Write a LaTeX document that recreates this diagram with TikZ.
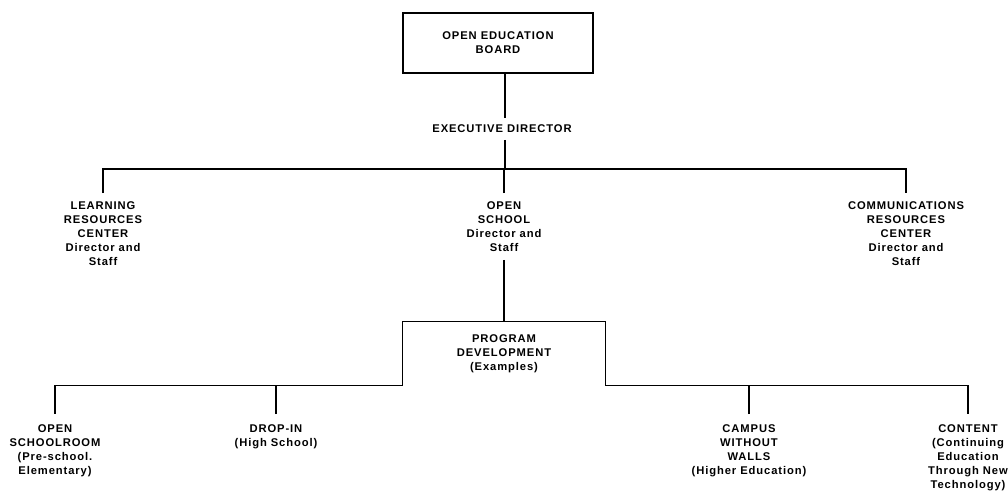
\documentclass[tikz,border=0pt]{standalone}
\usepackage{fontspec}
\setmainfont{Liberation Sans}[LetterSpace=8]
\begin{document}
\begin{tikzpicture}[
  x=0.75pt, y=-0.75pt,
  every node/.style={font=\bfseries\fontsize{8.4}{10.6}\selectfont, align=center},
  orgtext/.style={inner xsep=2pt, inner ysep=6pt},
  leaftext/.style={inner xsep=2pt, inner ysep=7.5pt},
  boardbox/.style={draw, line width=0.9pt, minimum width=142.5pt, minimum height=45pt},
  progbox/.style={minimum width=151.5pt, minimum height=47.25pt},
  link/.style={line width=0.9pt}
]
\useasboundingbox (0,0) rectangle (1008,493);

% top of the organisation
\node[boardbox] (board) at (498,43) {OPEN EDUCATION\\BOARD};
\node[inner ysep=5pt] (exec) at (502,129) {EXECUTIVE DIRECTOR};
\coordinate (hub) at (505,169);

% centres under the executive director
\node[orgtext, anchor=north] (lrc) at (103,193) {LEARNING\\RESOURCES\\CENTER\\Director and\\Staff};
\node[orgtext, anchor=north] (os) at (504,193) {OPEN\\SCHOOL\\Director and\\Staff};
\node[orgtext, anchor=north] (crc) at (906,193) {COMMUNICATIONS\\RESOURCES\\CENTER\\Director and\\Staff};

% program development and its examples
\node[progbox] (prog) at (504,353.5) {PROGRAM\\DEVELOPMENT\\(Examples)};
\node[leaftext, anchor=north] (osr) at (55,414) {OPEN\\SCHOOLROOM\\(Pre-school.\\Elementary)};
\node[leaftext, anchor=north] (dropin) at (276,414) {DROP-IN\\(High School)};
\node[leaftext, anchor=north] (campus) at (749,414) {CAMPUS\\WITHOUT\\WALLS\\(Higher Education)};
\node[leaftext, anchor=north] (content) at (968,414) {CONTENT\\(Continuing\\Education\\Through New\\Technology)};

% connectors
\draw[link] (board.south -| hub) -- (exec.north -| hub);
\draw[link] (exec.south -| hub) -- (hub);
\draw[link] (lrc.north) |- (crc.north |- hub) -- (crc.north);
\draw[link] (os.north) -- (os.north |- hub);
\draw[link] (os.south) -- (prog.north);
\draw[link] (prog.south west) -- (prog.north west) -- (prog.north east) -- (prog.south east);
\draw[link] (prog.south west) -| (osr.north);
\draw[link] (prog.south east) -| (content.north);
\draw[link] (dropin.north) -- (dropin.north |- prog.south);
\draw[link] (campus.north) -- (campus.north |- prog.south);
\end{tikzpicture}
\end{document}
